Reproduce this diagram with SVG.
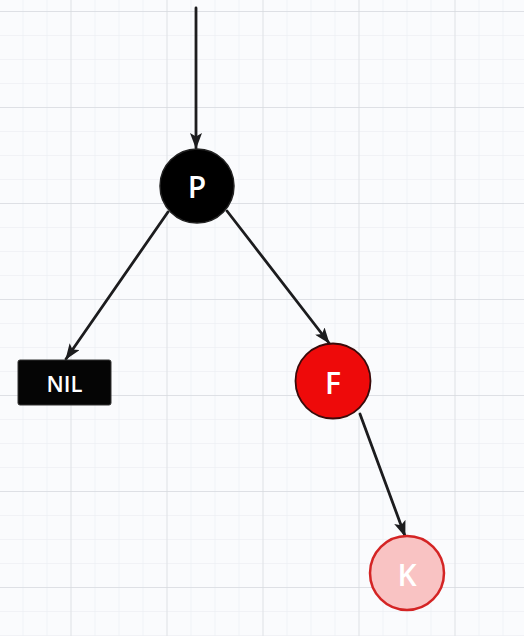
<svg xmlns="http://www.w3.org/2000/svg" width="524" height="636" viewBox="0 0 524 636">
<style>
.edge{fill:none;stroke:#1c1c1e;stroke-width:2.8;stroke-linecap:round}
.lbl{font-family:"Open Sans","Liberation Sans",sans-serif;font-weight:600;fill:#ffffff;text-anchor:middle;dominant-baseline:central}
</style>
<defs>
<pattern id="minor" x="22.5" y="11" width="24" height="24" patternUnits="userSpaceOnUse">
<path d="M0,0 V24 M0,0 H24" fill="none" stroke="#e8eaef" stroke-width="1"/>
</pattern>
<pattern id="major" x="70.5" y="11" width="96" height="96" patternUnits="userSpaceOnUse">
<path d="M0,0 V96 M0,0 H96" fill="none" stroke="#d8dadf" stroke-width="1.3"/>
</pattern>
<marker id="arr" viewBox="0 0 16 12" refX="15" refY="6" markerWidth="16" markerHeight="12" markerUnits="userSpaceOnUse" orient="auto">
<path d="M0,0 L16,6 L0,12 L3.5,6 z" fill="#1c1c1e"/>
</marker>
</defs>
<rect width="524" height="636" fill="#fafbfd"/>
<rect width="524" height="636" fill="url(#minor)"/>
<rect width="524" height="636" fill="url(#major)"/>
<g id="connectors">
<line class="edge" x1="196" y1="8" x2="196" y2="148" marker-end="url(#arr)"/>
<line class="edge" x1="168" y1="212" x2="66" y2="359" marker-end="url(#arr)"/>
<line class="edge" x1="227" y1="211" x2="329" y2="343" marker-end="url(#arr)"/>
<line class="edge" x1="360" y1="414" x2="405" y2="536" marker-end="url(#arr)"/>
</g>
<g id="node-P">
<circle cx="197" cy="186" r="37" fill="#000000" stroke="#222222" stroke-width="1.5"/>
<text class="lbl" x="197" y="186" font-size="30">P</text>
</g>
<g id="node-NIL">
<rect x="18" y="360" width="93" height="45" rx="2" fill="#050505" stroke="#333333" stroke-width="1"/>
<text class="lbl" x="64.5" y="383" font-size="22">NIL</text>
</g>
<g id="node-F">
<circle cx="333" cy="381" r="37.5" fill="#ee0a0a" stroke="#3a0a0a" stroke-width="1.8"/>
<text class="lbl" x="333" y="382" font-size="30">F</text>
</g>
<g id="node-K">
<circle cx="407" cy="573" r="37" fill="#f9c3c3" stroke="#d42424" stroke-width="2.5"/>
<text class="lbl" x="407" y="574" font-size="30">K</text>
</g>
</svg>
